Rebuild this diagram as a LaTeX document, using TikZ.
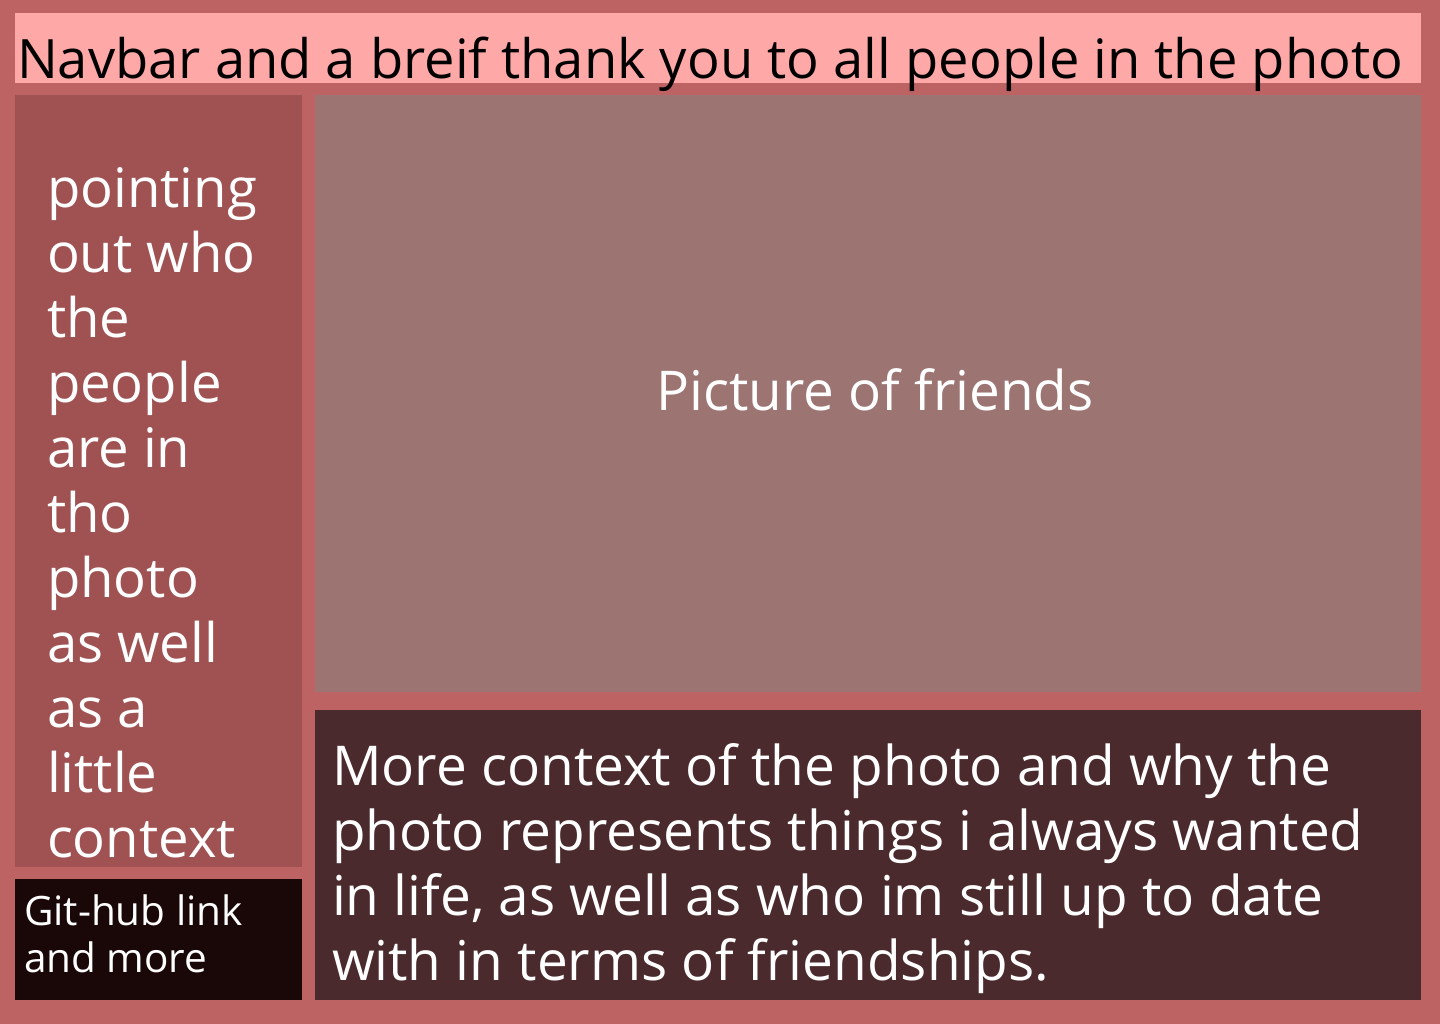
\documentclass[tikz,border=0pt]{standalone}
\usepackage{fontspec}
\setmainfont{Open Sans}
\usetikzlibrary{positioning}
\definecolor{pagebg}{HTML}{BD6363}
\definecolor{navfill}{HTML}{FFA8A8}
\definecolor{sidefill}{HTML}{A05252}
\definecolor{photofill}{HTML}{9C7573}
\definecolor{storyfill}{HTML}{4A2A2C}
\definecolor{gitfill}{HTML}{1A0707}

\begin{document}
\begin{tikzpicture}[x=1pt, y=-1pt,
  panel/.style={inner sep=0pt, outer sep=0pt},
  txt/.style={inner sep=0pt, outer sep=0pt, align=left, anchor=base west, text=white}]
\useasboundingbox (0,0) rectangle (1440,1024);
\fill[pagebg] (0,0) rectangle (1440,1024);
% panels
\path[panel, fill=navfill] (15,13) rectangle (1421,83);
\path[panel, fill=sidefill] (15,95) rectangle (302,867);
\path[panel, fill=photofill] (315,95) rectangle (1421,692);
\path[panel, fill=storyfill] (315,710) rectangle (1421,1000);
\path[panel, fill=gitfill] (15,879) rectangle (302,1000);
% texts (base anchor sits on the last line)
\node[txt, text=black, font=\fontsize{54.3}{60}\selectfont] (navtext) at (17,79)
  {Navbar and a breif thank you to all people in the photo};
\node[txt, font=\fontsize{54.5}{65}\selectfont] (sidetext) at (47,857)
  {pointing\\out who\\the\\people\\are in\\tho\\photo\\as well\\as a\\little\\context};
\node[txt, anchor=base, font=\fontsize{54.8}{60}\selectfont] (phototext) at (875,410)
  {Picture of friends};
\node[txt, font=\fontsize{54.9}{65}\selectfont] (storytext) at (332,980)
  {More context of the photo and why the\\photo represents things i always wanted\\in life, as well as who im still up to date\\with in terms of friendships.};
\node[txt, font=\fontsize{40.5}{47}\selectfont] (gittext) at (24,972)
  {Git-hub link\\and more};
\end{tikzpicture}
\end{document}
